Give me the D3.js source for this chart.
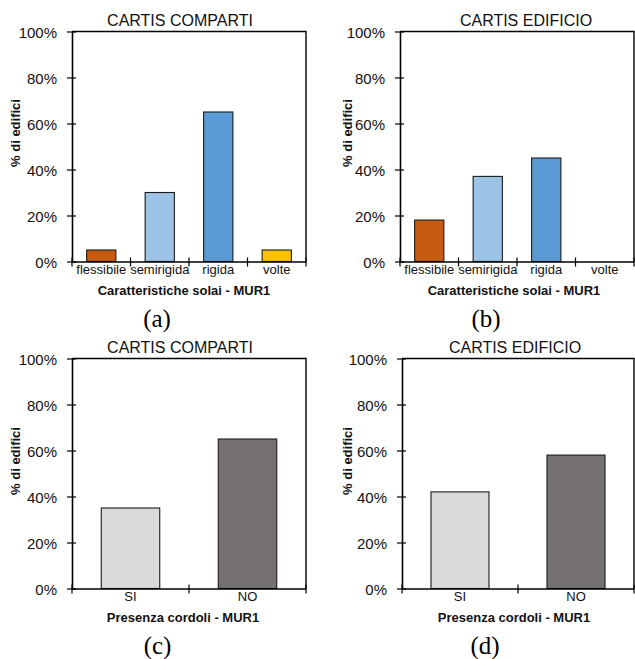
<!DOCTYPE html>
<html>
<head>
<meta charset="utf-8">
<script src="https://cdn.jsdelivr.net/npm/d3@7"></script>
<style>
  html, body { margin: 0; padding: 0; background: #fff; }
  svg { display: block; }
</style>
</head>
<body>
<svg id="chart" width="635" height="659"></svg>
<script>
// ---- Data ----
const solaiCategories = ["flessibile", "semirigida", "rigida", "volte"];
const solaiColors = ["#C55A11", "#9DC3E6", "#5B9BD5", "#FFC000"];
const solaiComparti = [5, 30, 65, 5];
const solaiEdificio = [18, 37, 45, 0];

const cordoliCategories = ["SI", "NO"];
const cordoliColors = ["#D9D9D9", "#767171"];
const cordoliComparti = [35, 65];
const cordoliEdificio = [42, 58];

const yTicks = [0, 20, 40, 60, 80, 100];
const yLabel = "% di edifici";
const titleComparti = "CARTIS COMPARTI";
const titleEdificio = "CARTIS EDIFICIO";
const xLabelSolai = "Caratteristiche solai - MUR1";
const xLabelCordoli = "Presenza cordoli - MUR1";
const captions = ["(a)", "(b)", "(c)", "(d)"];

// ---- Drawing ----
const svg = d3.select("#chart");
const SANS = "'Liberation Sans', Arial, Helvetica, sans-serif";
const SERIF = "'Liberation Serif', 'Times New Roman', Times, serif";

function panel(cfg) {
  const g = svg.append("g");
  const x = d3.scaleBand().domain(cfg.categories).range([cfg.left, cfg.right]).paddingInner(0.5).paddingOuter(0.25);
  const xb = d3.scaleBand().domain(cfg.categories).range([cfg.left, cfg.right]);
  const y = d3.scaleLinear().domain([0, 100]).range([cfg.bottom, cfg.top]);

  // frame top and right
  g.append("path")
    .attr("d", `M${cfg.left},${cfg.top}H${cfg.right}V${cfg.bottom}`)
    .attr("fill", "none").attr("stroke", "#000").attr("stroke-width", 1.4);

  // bars
  const data = cfg.categories.map((c, i) => ({ c, v: cfg.values[i], col: cfg.colors[i] })).filter(d => d.v > 0);
  g.selectAll("rect.bar").data(data).enter().append("rect")
    .attr("class", "bar")
    .attr("x", d => x(d.c))
    .attr("width", x.bandwidth())
    .attr("y", d => y(d.v))
    .attr("height", d => y(0) - y(d.v))
    .attr("fill", d => d.col)
    .attr("stroke", "#1a1a1a").attr("stroke-width", 1.1);

  // y axis
  const ya = g.append("g").attr("transform", `translate(${cfg.left},0)`)
    .call(d3.axisLeft(y).tickValues(yTicks).tickFormat(d => d + "%").tickSize(5).tickSizeOuter(0).tickPadding(10));
  ya.select(".domain").attr("stroke", "#000").attr("stroke-width", 1.6);
  ya.selectAll(".tick line").attr("x1", 4).attr("x2", -5).attr("stroke", "#000").attr("stroke-width", 1.2);
  ya.selectAll(".tick text").attr("font-family", SANS).attr("font-size", 15).attr("fill", "#111").attr("dy", "0.4em");

  // x axis
  const xa = g.append("g").attr("transform", `translate(0,${cfg.bottom})`)
    .call(d3.axisBottom(xb).tickSize(0).tickPadding(3.5));
  xa.select(".domain").attr("stroke", "#000").attr("stroke-width", 1.6);
  xa.selectAll(".tick text").attr("font-family", SANS).attr("font-size", 13).attr("fill", "#111");
  const bounds = cfg.categories.map(c => xb(c)).concat([cfg.right]);
  xa.selectAll("line.sep").data(bounds).enter().append("line")
    .attr("class", "sep")
    .attr("x1", d => d).attr("x2", d => d)
    .attr("y1", -4).attr("y2", 5)
    .attr("stroke", "#000").attr("stroke-width", 1.2);

  // title
  g.append("text").attr("x", cfg.titleX).attr("y", cfg.top - 6)
    .attr("text-anchor", "middle").attr("font-family", SANS).attr("font-size", 16).attr("fill", "#111")
    .text(cfg.title);

  // x label
  g.append("text").attr("x", cfg.xLabelX).attr("y", cfg.bottom + 33.5)
    .attr("text-anchor", "middle").attr("font-family", SANS).attr("font-size", 13).attr("font-weight", "bold").attr("fill", "#111")
    .text(cfg.xLabel);

  // y label
  g.append("text")
    .attr("transform", `translate(${cfg.yLabelX},${cfg.yLabelY}) rotate(-90)`)
    .attr("text-anchor", "middle").attr("font-family", SANS).attr("font-size", 13).attr("font-weight", "bold").attr("fill", "#111")
    .text(yLabel);

  // caption
  g.append("text").attr("x", cfg.capX).attr("y", cfg.capY)
    .attr("text-anchor", "middle").attr("font-family", SERIF).attr("font-size", 25).attr("fill", "#000")
    .text(cfg.caption);
}

panel({ categories: solaiCategories, values: solaiComparti, colors: solaiColors,
  left: 72, right: 306, top: 31.5, bottom: 261.5, title: titleComparti, titleX: 180,
  xLabel: xLabelSolai, xLabelX: 184, yLabelX: 20, yLabelY: 133, caption: captions[0], capX: 157, capY: 327 });
panel({ categories: solaiCategories, values: solaiEdificio, colors: solaiColors,
  left: 400, right: 634, top: 31.5, bottom: 261.5, title: titleEdificio, titleX: 526,
  xLabel: xLabelSolai, xLabelX: 514, yLabelX: 351.5, yLabelY: 133, caption: captions[1], capX: 486, capY: 327 });
panel({ categories: cordoliCategories, values: cordoliComparti, colors: cordoliColors,
  left: 72, right: 306, top: 358.5, bottom: 588.5, title: titleComparti, titleX: 180,
  xLabel: xLabelCordoli, xLabelX: 183, yLabelX: 20, yLabelY: 461, caption: captions[2], capX: 157.5, capY: 654 });
panel({ categories: cordoliCategories, values: cordoliEdificio, colors: cordoliColors,
  left: 402, right: 634, top: 358.5, bottom: 588.5, title: titleEdificio, titleX: 515,
  xLabel: xLabelCordoli, xLabelX: 514, yLabelX: 351.5, yLabelY: 461, caption: captions[3], capX: 485, capY: 654 });
</script>
</body>
</html>
